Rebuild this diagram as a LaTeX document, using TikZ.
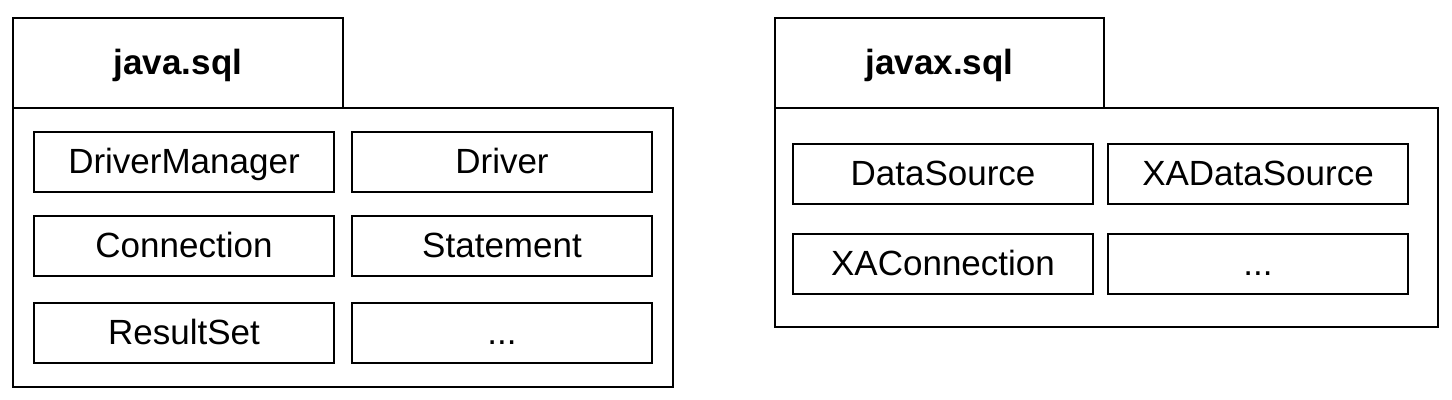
\documentclass[tikz,border=0pt]{standalone}
\usepackage{fontspec}
\setmainfont{Liberation Sans}
\usepackage{tikz}

\begin{document}
\begin{tikzpicture}[x=0.5pt,y=-0.5pt,
    pkgtab/.style={draw, line width=1.4pt, minimum width=165pt, minimum height=45pt, inner sep=0pt, text height=14pt, text depth=2pt, font=\fontsize{17.5}{20}\selectfont\bfseries},
    pkgbody/.style={draw, line width=1.4pt, inner sep=0pt},
    cls/.style={draw, line width=1.4pt, minimum width=150pt, minimum height=30pt, inner sep=0pt, text height=14pt, text depth=2pt, font=\fontsize{17.5}{20}\selectfont}]
            \useasboundingbox (0,0) rectangle (1452,400);

            % java.sql package
            \node[pkgbody, minimum width=330pt, minimum height=139.5pt] (sqlbody) at (343,247.5) {};
            \node[pkgtab] (sqltab) at (178,63) {java.sql};

            \node[cls] (drivermanager) at (184,162) {DriverManager};
            \node[cls] (driver) at (502,162) {Driver};
            \node[cls] (connection) at (184,246) {Connection};
            \node[cls] (statement) at (502,246) {Statement};
            \node[cls] (resultset) at (184,333) {ResultSet};
            \node[cls] (sqlmore) at (502,333) {...};

            % javax.sql package
            \node[pkgbody, minimum width=331.5pt, minimum height=109.5pt] (xsqlbody) at (1106.5,217.5) {};
            \node[pkgtab, minimum width=164.5pt] (xsqltab) at (939.5,63) {javax.sql};

            \node[cls] (datasource) at (943,174) {DataSource};
            \node[cls] (xadatasource) at (1258,174) {XADataSource};
            \node[cls] (xaconnection) at (943,264) {XAConnection};
            \node[cls] (xsqlmore) at (1258,264) {...};
        \end{tikzpicture}
\end{document}
